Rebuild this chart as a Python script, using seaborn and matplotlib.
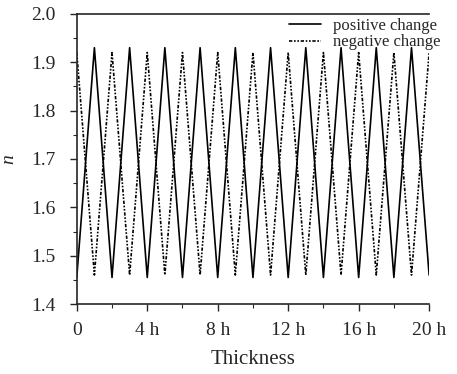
import numpy as np
import pandas as pd
import matplotlib
matplotlib.use("Agg")
import matplotlib.pyplot as plt
import seaborn as sns
from matplotlib.ticker import MultipleLocator

# values (thickness in units of h)
thickness = list(range(0, 21))
pos_change = [1.455, 1.93, 1.455, 1.93, 1.455, 1.93, 1.455, 1.93, 1.455, 1.93, 1.455,
              1.93, 1.455, 1.93, 1.455, 1.93, 1.455, 1.93, 1.455, 1.93, 1.46]
neg_change = [1.92, 1.46, 1.92, 1.46, 1.92, 1.46, 1.92, 1.46, 1.92, 1.46, 1.92,
              1.46, 1.92, 1.46, 1.92, 1.46, 1.92, 1.46, 1.92, 1.46, 1.92]
xtick_labels = ['0', '4 h', '8 h', '12 h', '16 h', '20 h']

df = pd.DataFrame({'Thickness': thickness * 2,
                   'n': pos_change + neg_change,
                   'series': ['positive change'] * len(thickness) + ['negative change'] * len(thickness)})

sns.set_style('ticks')
plt.rcParams['font.family'] = ['Liberation Serif', 'DejaVu Serif']
plt.rcParams['xtick.direction'] = 'out'
plt.rcParams['ytick.direction'] = 'out'

fig = plt.figure(figsize=(4.57, 3.74), dpi=100)
ax = fig.add_axes([0.168, 0.187, 0.771, 0.776])

sns.lineplot(data=df, x='Thickness', y='n', hue='series', style='series',
             palette=['black', 'black'],
             dashes={'positive change': '', 'negative change': (2, 1, 1, 1, 1, 1)},
             linewidth=1.2, ax=ax)

ax.set_xlim(0, 20)
ax.set_ylim(1.4, 2.0)
ax.set_xticks([0, 4, 8, 12, 16, 20])
ax.set_xticklabels(xtick_labels, fontsize=14)
ax.xaxis.set_minor_locator(MultipleLocator(2))
ax.yaxis.set_major_locator(MultipleLocator(0.1))
ax.yaxis.set_minor_locator(MultipleLocator(0.05))
ax.tick_params(axis='y', labelsize=14, pad=10)
ax.tick_params(axis='x', pad=8)
ax.tick_params(which='major', length=5, width=1)
ax.tick_params(which='minor', length=3, width=0.8)
ax.set_yticklabels([f'{v:.1f}' for v in ax.get_yticks()])

ax.set_xlabel('Thickness', fontsize=15, labelpad=8)
ax.set_ylabel('n', fontsize=14, style='italic', labelpad=10)

for s in ['left', 'bottom', 'top']:
    ax.spines[s].set_linewidth(1.2)
ax.spines['right'].set_visible(False)

leg = ax.legend(loc='upper right', frameon=False, fontsize=12,
                handlelength=1.9, handletextpad=0.7, borderaxespad=0.0,
                labelspacing=0.05, bbox_to_anchor=(1.05, 1.01))
leg.set_title(None)

fig.savefig('out.png', dpi=100)
